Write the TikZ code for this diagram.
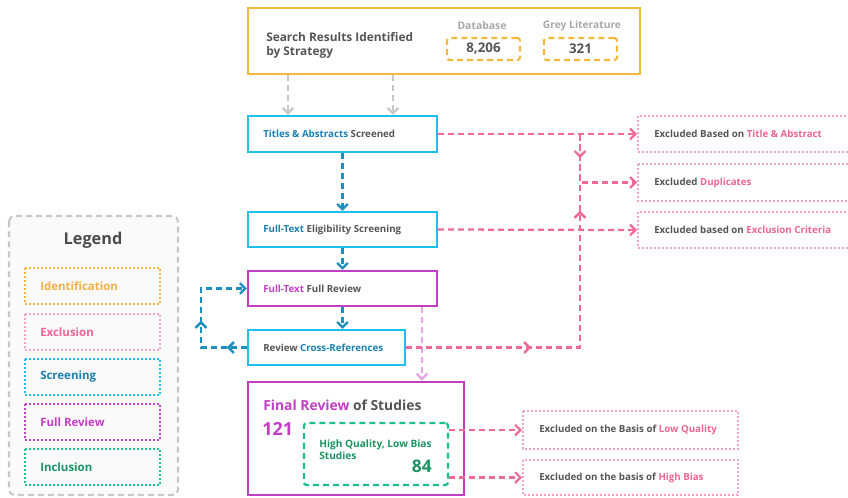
\documentclass[tikz,border=0pt]{standalone}
\usepackage{fontspec}
\setmainfont{Open Sans}
\usetikzlibrary{arrows.meta,decorations.markings,calc}
\definecolor{orng}{HTML}{F5B83D}
\definecolor{orngt}{HTML}{F2B048}
\definecolor{pnk}{HTML}{F06A98}
\definecolor{pnkt}{HTML}{EE6494}
\definecolor{pnkl}{HTML}{F2A3CA}
\definecolor{cyn}{HTML}{1DC0EC}
\definecolor{blu}{HTML}{1B8EC2}
\definecolor{blut}{HTML}{1B7FB0}
\definecolor{prp}{HTML}{C23EC3}
\definecolor{prpl}{HTML}{E8A2E8}
\definecolor{grn}{HTML}{1CC08E}
\definecolor{dgrn}{HTML}{1A9462}
\definecolor{txt}{HTML}{555555}
\definecolor{gry}{HTML}{C8C8C8}
\definecolor{gryt}{HTML}{A8A8A8}
\definecolor{lgbg}{HTML}{FAFAFA}
\tikzset{
  dsh/.style={line width=1.7pt, dash pattern=on 4.5pt off 3pt},
  dot/.style={line width=1.6pt, dash pattern=on 1.5pt off 1.5pt},
  tip/.style={-{Straight Barb[length=4pt,width=8pt]}},
  lbl/.style={anchor=west, inner sep=0pt, font=\bfseries\fontsize{7.3}{9}\selectfont, text=txt},
  lgl/.style={anchor=west, inner sep=0pt, font=\bfseries\fontsize{8.6}{10}\selectfont},
  midarr/.style={postaction={decorate}, decoration={markings, mark=at position #1 with {\arrow{Straight Barb[length=4pt,width=8pt]}}}},
}
\begin{document}
\begin{tikzpicture}[x=0.75pt, y=-0.75pt]
\useasboundingbox (0,0) rectangle (848,497);
% ---------- legend ----------
\draw[gry, fill=lgbg, line width=1.6pt, dash pattern=on 4.5pt off 3pt, rounded corners=4pt] (9,216) rectangle (178,495);
\node[inner sep=0pt, font=\bfseries\fontsize{12.2}{14}\selectfont, text=txt!90!black] (legt) at (93,240) {Legend};
\draw[orng, dot] (25,268) rectangle (160,304);
\node[lgl, text=orngt] (lg1) at (40,286) {Identification};
\draw[pnkl, dot] (25,314) rectangle (160,350);
\node[lgl, text=pnkt] (lg2) at (40,332) {Exclusion};
\draw[cyn, dot] (25,359) rectangle (160,395);
\node[lgl, text=blut] (lg3) at (40,377) {Screening};
\draw[prp, dot] (25,404) rectangle (160,440);
\node[lgl, text=prp] (lg4) at (40,422) {Full Review};
\draw[grn, dot] (25,449) rectangle (160,485);
\node[lgl, text=dgrn] (lg5) at (40,467) {Inclusion};
% ---------- top box ----------
\node[draw=orng, line width=1.8pt, minimum width=294pt, minimum height=49.5pt, inner sep=0pt] (sr) at (444,41) {};
\node[lbl, align=left, font=\bfseries\fontsize{8.9}{11}\selectfont] (srt) at (266,45.5) {Search Results Identified\\by Strategy};
\node[inner sep=0pt, font=\bfseries\fontsize{7.8}{9}\selectfont, text=gryt] (dbl) at (482,25.5) {Database};
\node[inner sep=0pt, font=\bfseries\fontsize{7.7}{9}\selectfont, text=gryt] (gll) at (582,25.5) {Grey Literature};
\node[draw=orng, line width=1.6pt, dash pattern=on 4.5pt off 3pt, rounded corners=2pt, minimum width=54.75pt, minimum height=16.5pt, inner sep=0pt, font=\bfseries\fontsize{10}{11}\selectfont, text=txt] (db) at (483.5,49) {8,206};
\node[draw=orng, line width=1.6pt, dash pattern=on 4.5pt off 3pt, rounded corners=2pt, minimum width=54.75pt, minimum height=16.5pt, inner sep=0pt, font=\bfseries\fontsize{10}{11}\selectfont, text=txt] (gl) at (580.5,49) {321};
% ---------- main column ----------
\node[draw=cyn, line width=1.8pt, minimum width=141.75pt, minimum height=27pt, inner sep=0pt] (t) at (342.5,134) {};
\node[lbl] (tt) at (263,134) {\textcolor{blut}{Titles \& Abstracts} Screened};
\node[draw=cyn, line width=1.8pt, minimum width=141.75pt, minimum height=26.25pt, inner sep=0pt] (f) at (342.5,229.5) {};
\node[lbl] (ft) at (263,229.5) {\textcolor{blut}{Full-Text} Eligibility Screening};
\node[draw=prp, line width=1.8pt, minimum width=141.75pt, minimum height=26.25pt, inner sep=0pt] (fr) at (342.5,288.5) {};
\node[lbl] (frt) at (263,288.5) {\textcolor{prp}{Full-Text} Full Review};
\node[draw=cyn, line width=1.8pt, minimum width=117.75pt, minimum height=26.25pt, inner sep=0pt] (r) at (326.5,347.5) {};
\node[lbl] (rt) at (263,347.5) {Review \textcolor{blut}{Cross-References}};
\node[draw=prp, line width=2pt, minimum width=162pt, minimum height=84.75pt, inner sep=0pt] (fin) at (356,438.5) {};
\node[lbl, font=\bfseries\fontsize{10.4}{12}\selectfont] (fint) at (263,405) {\textcolor{prp}{Final Review} of Studies};
\node[lbl, font=\bfseries\fontsize{13.5}{15}\selectfont, text=prp] (n121) at (262,428.5) {121};
\node[draw=grn, line width=1.7pt, dash pattern=on 4.5pt off 3pt, rounded corners=2pt, minimum width=108pt, minimum height=46.5pt, inner sep=0pt] (gb) at (376,454) {};
\node[lbl, align=left, text=dgrn, font=\bfseries\fontsize{7.6}{9}\selectfont] (gbt) at (319,450) {High Quality, Low Bias\\Studies};
\node[anchor=east, inner sep=0pt, font=\bfseries\fontsize{13}{15}\selectfont, text=dgrn] (n84) at (432,466) {84};
% ---------- exclusion boxes ----------
\draw[pnkl, dot] (638,116) rectangle (852,152);
\node[lbl] (e1) at (654,134) {Excluded Based on \textcolor{pnkt}{Title \& Abstract}};
\draw[pnkl, dot] (638,164) rectangle (852,201);
\node[lbl] (e2) at (654,182.5) {Excluded \textcolor{pnkt}{Duplicates}};
\draw[pnkl, dot] (638,212) rectangle (852,248);
\node[lbl] (e3) at (654,230) {Excluded based on \textcolor{pnkt}{Exclusion Criteria}};
\draw[pnkl, dot] (523,411) rectangle (738,449);
\node[lbl] (e4) at (539,430) {Excluded on the Basis of \textcolor{pnkt}{Low Quality}};
\draw[pnkl, dot] (523,460) rectangle (738,495);
\node[lbl] (e5) at (539,477.5) {Excluded on the basis of \textcolor{pnkt}{High Bias}};
\coordinate (x1) at (637,134);
\coordinate (x2) at (637,182.5);
\coordinate (x3) at (637,230);
\coordinate (x4) at (522,430);
\coordinate (x5) at (522,477.5);
% ---------- connectors ----------
\coordinate (g1) at (288,0);
\coordinate (g2) at (393,0);
\draw[gry, dsh, tip] (sr.south -| g1) -- (t.north -| g1);
\draw[gry, dsh, tip] (sr.south -| g2) -- (t.north -| g2);
\draw[blu, dsh, tip] (t.south) -- (f.north);
\draw[blu, dsh, tip] (f.south) -- (fr.north);
\draw[blu, dsh, tip] (fr.south) -- (fr.south |- r.north);
\coordinate (lp1) at (201,347.5);
\coordinate (lp2) at (201,288.5);
\draw[blu, dsh, tip, midarr=15pt, midarr=54.4pt] (r.west) -- (lp1) -- (lp2) -- (fr.west);
\coordinate (pv) at (422,0);
\draw[prpl, dsh, tip] (fr.south -| pv) -- (fin.north -| pv);
\draw[pnk, dsh, tip] (t.east) -- (x1);
\draw[pnk, dsh, tip] (f.east) -- (x3);
\coordinate (j1) at (580,134);
\coordinate (j2) at (580,182.5);
\coordinate (j3) at (580,347.5);
\draw[pnk, dsh, midarr=93.75pt, midarr=232.9pt] (r.east) -- (j3) -- (j1);
\draw[pnk, dsh, tip, midarr=18pt] (j1) -- (j2) -- (x2);
\draw[pnk, dsh, tip] (gb.east |- x4) -- (x4);
\draw[pnk, dsh, tip] (gb.east |- x5) -- (x5);
\end{tikzpicture}
\end{document}
